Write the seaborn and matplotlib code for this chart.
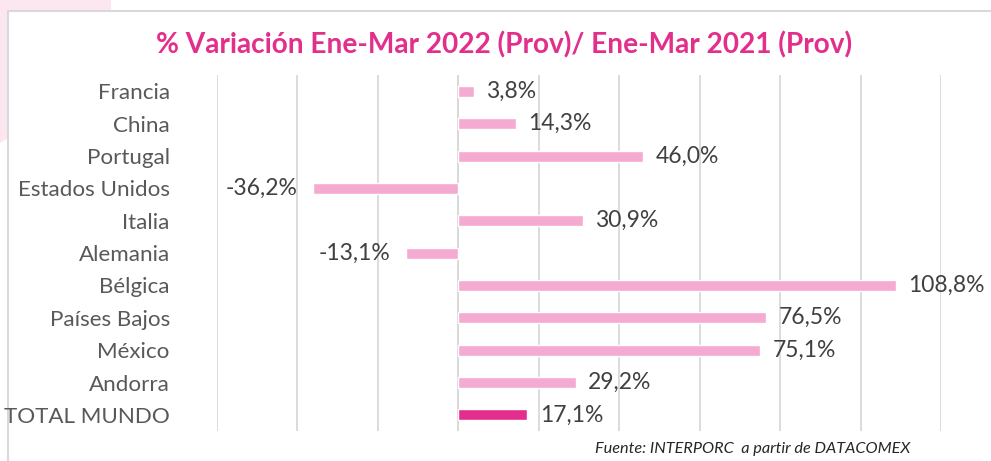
import matplotlib
matplotlib.use("Agg")
import matplotlib.pyplot as plt
import seaborn as sns
import pandas as pd
from matplotlib.patches import Rectangle, Polygon

categories = ["Francia", "China", "Portugal", "Estados Unidos", "Italia", "Alemania",
              "Bélgica", "Países Bajos", "México", "Andorra", "TOTAL MUNDO"]
values = [3.8, 14.3, 46.0, -36.2, 30.9, -13.1, 108.8, 76.5, 75.1, 29.2, 17.1]
bar_colors = ["#F4AAD1"] * 10 + ["#E42E8E"]

title = "% Variación Ene-Mar 2022 (Prov)/ Ene-Mar 2021 (Prov)"
source = "Fuente: INTERPORC  a partir de DATACOMEX"

sns.set_theme(style="white")
plt.rcParams["font.family"] = ["Lato", "DejaVu Sans"]

df = pd.DataFrame({"pais": categories, "variacion": values})

fig = plt.figure(figsize=(9.91, 4.61), dpi=100)

# soft pink corner decoration and light frame
fig.patches.append(Polygon([[0, 1], [0.112, 1], [0.112, 0.976], [0.008, 0.976], [0.008, 0.70], [0, 0.69]],
                           closed=True, transform=fig.transFigure, facecolor="#FCE6F0",
                           edgecolor="none", zorder=0))
fig.patches.append(Rectangle((0.008, -0.05), 1.1, 1.026, transform=fig.transFigure,
                             facecolor="white", edgecolor="#D9D9D9", linewidth=1.5, zorder=1))

ax = fig.add_axes([0.219, 0.065, 0.7306, 0.772])
ax.set_zorder(2)
ax.patch.set_alpha(0)

sns.barplot(data=df, x="variacion", y="pais", hue="pais", palette=bar_colors,
            orient="h", width=0.34, legend=False, ax=ax, saturation=1)

ax.set_xlim(-60, 120)
ax.set_ylim(10.5, -0.5)
ax.set_xticks(range(-60, 121, 20))
ax.xaxis.grid(True, color="#D9D9D9", linewidth=1.3)
ax.set_axisbelow(True)
ax.tick_params(axis="x", bottom=False, labelbottom=False)
ax.tick_params(axis="y", left=False, length=0, pad=34, labelsize=16.1, labelcolor="#595959")
ax.set_xlabel("")
ax.set_ylabel("")
for s in ax.spines.values():
    s.set_visible(False)
ax.axvline(0, color="#D9D9D9", linewidth=1.3, zorder=0)

for i, v in enumerate(values):
    label = f"{v:.1f}%".replace(".", ",")
    if v >= 0:
        ax.annotate(label, (v, i), xytext=(9, 0), textcoords="offset points",
                    ha="left", va="center", fontsize=16.5, color="#404040")
    else:
        ax.annotate(label, (v, i), xytext=(-11, 0), textcoords="offset points",
                    ha="right", va="center", fontsize=16.5, color="#404040")

fig.text(0.509, 0.903, title, ha="center", va="center", fontsize=20.2,
         fontweight="bold", color="#E32F8C", zorder=3)
fig.text(0.919, 0.027, source, ha="right", va="center", fontsize=11.7,
         style="italic", color="#262626", zorder=3)

fig.savefig("out.png", dpi=100)
